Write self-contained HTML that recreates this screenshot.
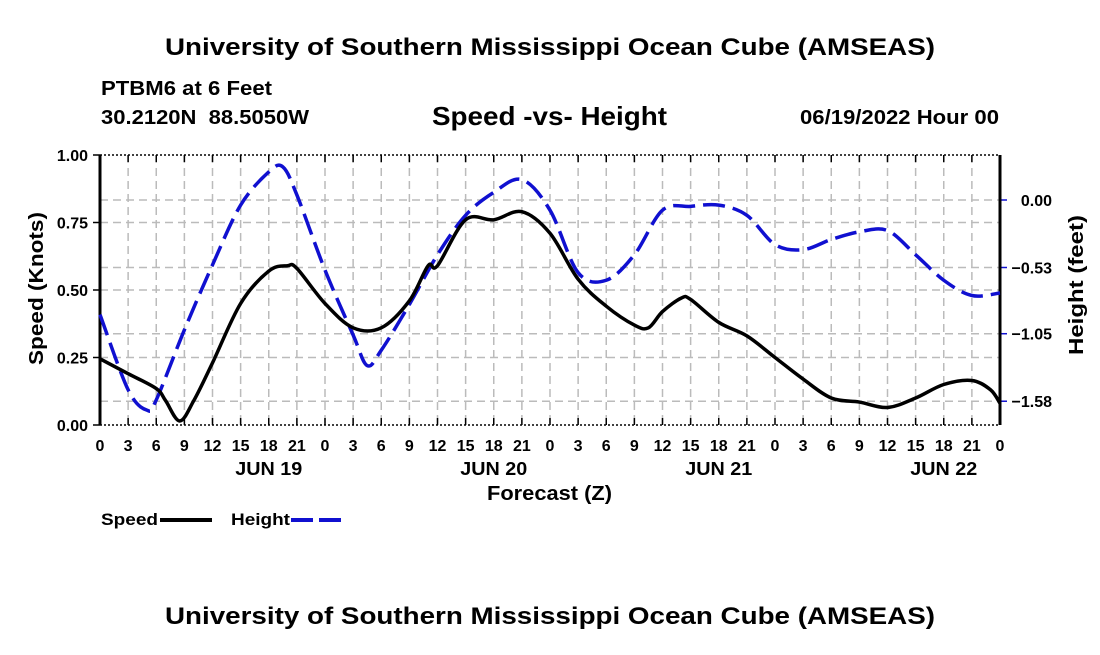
<!DOCTYPE html>
<html><head><meta charset="utf-8"><style>
body{margin:0;background:#fff;}
svg text{font-family:"Liberation Sans",sans-serif;font-weight:bold;fill:#000;}
</style></head><body>
<svg id="chart" width="1100" height="650" viewBox="0 0 1100 650" xmlns="http://www.w3.org/2000/svg">
<text x="550" y="55" font-size="24" text-anchor="middle" textLength="770" lengthAdjust="spacingAndGlyphs">University of Southern Mississippi Ocean Cube (AMSEAS)</text>
<text x="101" y="95" font-size="20" textLength="171" lengthAdjust="spacingAndGlyphs">PTBM6 at 6 Feet</text>
<text x="101" y="124" font-size="20" xml:space="preserve" textLength="208" lengthAdjust="spacingAndGlyphs">30.2120N  88.5050W</text>
<text x="432" y="125" font-size="26" textLength="235" lengthAdjust="spacingAndGlyphs">Speed -vs- Height</text>
<text x="800" y="124" font-size="20" textLength="199" lengthAdjust="spacingAndGlyphs">06/19/2022 Hour 00</text>
<g id="grid"></g>
<g id="axes"></g>
<g id="series"></g>
<text x="487" y="500" font-size="20" textLength="125" lengthAdjust="spacingAndGlyphs">Forecast (Z)</text>
<text transform="translate(43,365) rotate(-90)" font-size="20" textLength="153" lengthAdjust="spacingAndGlyphs">Speed (Knots)</text>
<text transform="translate(1083,355) rotate(-90)" font-size="20" textLength="140" lengthAdjust="spacingAndGlyphs">Height (feet)</text>
<g>
<text x="101" y="525" font-size="17" textLength="57" lengthAdjust="spacingAndGlyphs">Speed</text>
<line x1="160" y1="520" x2="212" y2="520" stroke="#000" stroke-width="4"/>
</g>
<g>
<text x="231" y="525" font-size="17" textLength="59" lengthAdjust="spacingAndGlyphs">Height</text>
<line x1="291" y1="520" x2="343" y2="520" stroke="#1010d0" stroke-width="4" stroke-dasharray="22 6"/>
</g>
<text x="550" y="624" font-size="24" text-anchor="middle" textLength="770" lengthAdjust="spacingAndGlyphs">University of Southern Mississippi Ocean Cube (AMSEAS)</text>
</svg>
<script>
const hours = [0,3,6,9,12,15,18,21,24,27,30,33,36,39,42,45,48,51,54,57,60,63,66,69,72,75,78,81,84,87,90,93,96];
const hourTickLabels = ["0","3","6","9","12","15","18","21","0","3","6","9","12","15","18","21","0","3","6","9","12","15","18","21","0","3","6","9","12","15","18","21","0"];
const dayLabels = ["JUN 19","JUN 20","JUN 21","JUN 22"];
const dayHours = [18,42,66,90];
const speedHours = [0,3,6,7,8.5,10,12,15,18,20,21,24,27,30,33,35,36,39,42,45,48,51,54,57,58.5,60,62,63,66,69,72,75,78,81,84,87,90,93,95,96];
const speedValues = [0.245,0.19,0.135,0.09,0.015,0.09,0.23,0.45,0.57,0.59,0.58,0.45,0.36,0.36,0.46,0.59,0.59,0.76,0.76,0.79,0.71,0.54,0.44,0.37,0.36,0.42,0.47,0.465,0.38,0.33,0.25,0.17,0.10,0.085,0.065,0.10,0.15,0.165,0.13,0.08];
const heightHours = [0,3,5,6,9,12,15,18,19.5,21,24,27,28.5,30,33,36,39,42,45,48,51,54,57,60,63,66,69,72,75,78,81,84,87,90,93,96];
const heightValues = [-0.90,-1.49,-1.65,-1.57,-1.02,-0.51,-0.04,0.22,0.26,0.04,-0.55,-1.06,-1.30,-1.18,-0.82,-0.43,-0.12,0.06,0.16,-0.08,-0.57,-0.63,-0.43,-0.08,-0.05,-0.04,-0.12,-0.35,-0.39,-0.31,-0.25,-0.24,-0.43,-0.63,-0.75,-0.73];
const speedTicks = [0,0.25,0.5,0.75,1.0];
const speedTickLabels = ["0.00","0.25","0.50","0.75","1.00"];
const heightTicks = [0,-0.53,-1.05,-1.58];
const heightTickLabels = ["0.00","\u22120.53","\u22121.05","\u22121.58"];

const X0=100,X1=1000,Y0=425,Y1=155;
const xs=h=>X0+(X1-X0)*h/96;
const ys=v=>Y0-(Y0-Y1)*v;
const yh=v=>200-v*(67.5/0.53);
const NS="http://www.w3.org/2000/svg";
function mk(tag,attrs,parent){const e=document.createElementNS(NS,tag);for(const k in attrs)e.setAttribute(k,attrs[k]);parent.appendChild(e);return e;}
const grid=document.getElementById('grid'),axes=document.getElementById('axes'),series=document.getElementById('series');
hours.forEach((h,i)=>{
  if(i>0&&i<hours.length-1){const l=mk('line',{x1:xs(h),x2:xs(h),y1:Y1,y2:Y0,stroke:'#bbb','stroke-width':1.5,'stroke-dasharray':'8 5'},grid);
  
  }
  const t=mk('line',{x1:xs(h),x2:xs(h),y1:Y0,y2:Y0-7,stroke:'#000','stroke-width':1.5},axes);
  
  
  const t2=mk('line',{x1:xs(h),x2:xs(h),y1:Y1,y2:Y1+7,stroke:'#000','stroke-width':1.5},axes);
  
  
  const lb=mk('text',{x:xs(h),y:451,'font-size':16,'text-anchor':'middle'},axes);lb.textContent=hourTickLabels[i];
  
  
});
dayLabels.forEach((d,i)=>{const t=mk('text',{x:xs(dayHours[i]),y:475,'font-size':18,'text-anchor':'middle',textLength:67,lengthAdjust:'spacingAndGlyphs'},axes);t.textContent=d;
  
  });
speedTicks.forEach((v,i)=>{
  if(v>0&&v<1){const l=mk('line',{x1:X0,x2:X1,y1:ys(v),y2:ys(v),stroke:'#bbb','stroke-width':1.5,'stroke-dasharray':'8 5'},grid);
  
  }
  mk('line',{x1:X0-7,x2:X0,y1:ys(v),y2:ys(v),stroke:'#000','stroke-width':1.5},axes);
  const t=mk('text',{x:X0-12,y:ys(v)+6,'font-size':16,'text-anchor':'end'},axes);t.textContent=speedTickLabels[i];
  
  
});
heightTicks.forEach((v,i)=>{
  const l=mk('line',{x1:X0,x2:X1,y1:yh(v),y2:yh(v),stroke:'#bbb','stroke-width':1.5,'stroke-dasharray':'8 5'},grid);
  
  
  mk('line',{x1:X1,x2:X1+7,y1:yh(v),y2:yh(v),stroke:'#1010d0','stroke-width':1.5},axes);
  const t=mk('text',{x:1052,y:yh(v)+6,'font-size':16,'text-anchor':'end'},axes);t.textContent=heightTickLabels[i];
  
  
});
const fr=mk('rect',{x:X0,y:Y1,width:X1-X0,height:Y0-Y1,fill:'none',stroke:'#000','stroke-width':1.5,'stroke-dasharray':'2 2'},axes);


const la=mk('line',{x1:X0,x2:X0,y1:Y1,y2:Y0,stroke:'#000','stroke-width':3},axes);


const ra=mk('line',{x1:X1,x2:X1,y1:Y1,y2:Y0,stroke:'#000','stroke-width':3},axes);


function smooth(pts){let d=`M${pts[0][0]},${pts[0][1]}`;for(let i=0;i<pts.length-1;i++){const p0=pts[i-1]||pts[i],p1=pts[i],p2=pts[i+1],p3=pts[i+2]||p2;
 d+=` C${p1[0]+(p2[0]-p0[0])/6},${p1[1]+(p2[1]-p0[1])/6} ${p2[0]-(p3[0]-p1[0])/6},${p2[1]-(p3[1]-p1[1])/6} ${p2[0]},${p2[1]}`;}return d;}
const hp=mk('path',{d:smooth(heightHours.map((h,i)=>[xs(h),yh(heightValues[i])])),fill:'none',stroke:'#1010d0','stroke-width':3.5,'stroke-dasharray':'22 8'},series);


const sp=mk('path',{d:smooth(speedHours.map((h,i)=>[xs(h),ys(speedValues[i])])),fill:'none',stroke:'#000','stroke-width':3.5},series);


</script>
</body></html>
